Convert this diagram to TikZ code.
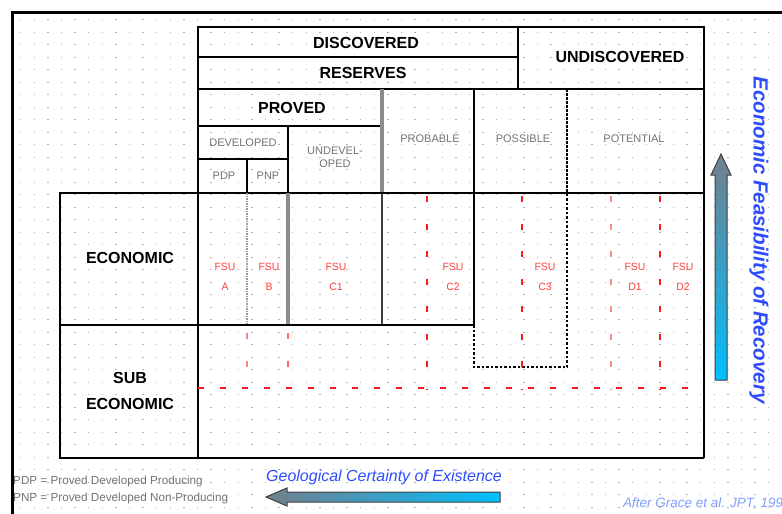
\documentclass[tikz,border=0pt]{standalone}
\usepackage{fontspec}
\setmainfont{Liberation Sans}
\definecolor{txtblue}{rgb}{0.18,0.3,1}
\definecolor{lightblue}{rgb}{0.5,0.62,1}
\definecolor{fsured}{rgb}{1,0.25,0.25}
\definecolor{arrgray}{rgb}{0.45,0.5,0.55}
\definecolor{arrcyan}{rgb}{0,0.75,1}
\begin{document}
\begin{tikzpicture}[x=1pt,y=-1pt,
  frame/.style={line width=3pt,black},
  heavy/.style={line width=2.8pt,black},
  med/.style={line width=2pt,black},
  thinln/.style={line width=1.2pt,black!75},
  grayheavy/.style={line width=3.2pt,black!45},
  grayfine/.style={line width=1.2pt,black!40,dash pattern=on 1.5pt off 1pt},
  blkdash/.style={line width=2pt,black,dash pattern=on 2.5pt off 2pt},
  hdrdash/.style={line width=2.4pt,black,dash pattern=on 3pt off 1pt},
  redv/.style={line width=2pt,red!90,dash pattern=on 6pt off 21.5pt},
  redh/.style={line width=2pt,red!90,dash pattern=on 6pt off 16pt},
  hdr/.style={font=\bfseries\fontsize{16}{16}\selectfont,inner sep=0pt},
  subhdr/.style={font=\fontsize{11}{13}\selectfont,text=black!55,inner sep=0pt,align=center},
  fsu/.style={font=\fontsize{10.5}{20}\selectfont,text=fsured,align=center,inner sep=0pt},
  legend/.style={font=\fontsize{11.7}{12}\selectfont,text=black!55,anchor=west,inner sep=0pt},
]
\useasboundingbox (0,0) rectangle (782,514);
\fill[white] (0,0) rectangle (782,514);
% dotted background
\foreach \i in {0,...,56}{\foreach \j in {0,...,39}{%
  \fill[black!30] (20+13.6*\i,19+12.5*\j) rectangle +(1.4,1.4);}}
% outer frame
\draw[frame] (12,514) -- (12,12) -- (782,12);
% header
\draw[heavy] (198,27) rectangle (704,89);
\draw[heavy] (198,57) -- (518,57);
\draw[heavy] (518,27) -- (518,89);
\draw[heavy] (198,89) -- (198,458);
\draw[heavy] (704,89) -- (704,458);
\draw[heavy] (198,126) -- (382,126);
\draw[heavy] (198,159) -- (288,159);
\draw[heavy] (288,126) -- (288,193);
\draw[med] (247,159) -- (247,193);
\draw[grayheavy] (382,89) -- (382,193);
\draw[thinln] (382,193) -- (382,325);
\draw[med] (474,89) -- (474,325);
\draw[hdrdash] (567,89) -- (567,193);
\draw[med] (198,193) -- (704,193);
% economic rows
\draw[grayfine] (247,193) -- (247,325);
\draw[grayheavy] (288,193) -- (288,325);
\draw[heavy] (60,193) rectangle (198,458);
\draw[heavy] (60,325) -- (474,325);
\draw[blkdash] (474,325) -- (474,367) -- (567,367) -- (567,193);
\draw[heavy] (60,458) -- (704,458);
% red FSU boundaries
\draw[redv] (427,196) -- (427,390);
\draw[redv] (522,196) -- (522,390);
\draw[redv,red!45] (611,196) -- (611,390);
\draw[redv,line width=1.5pt] (660,196) -- (660,390);
\draw[redv,red!50,line width=1.5pt] (247,333) -- (247,370);
\draw[redv,red!60] (288,333) -- (288,370);
\draw[redh] (198,388) -- (704,388);
% header labels
\node[hdr] (disc) at (366,43) {DISCOVERED};
\node[hdr] (res) at (363,73) {RESERVES};
\node[hdr] (undisc) at (620,57) {UNDISCOVERED};
\node[hdr] (proved) at (292,108) {PROVED};
\node[subhdr] (devel) at (243,143) {DEVELOPED};
\node[subhdr] (undevel) at (335,157) {UNDEVEL-\\OPED};
\node[subhdr] (pdp) at (224,176) {PDP};
\node[subhdr] (pnp) at (268,176) {PNP};
\node[subhdr] (prob) at (430,139) {PROBABLE};
\node[subhdr] (poss) at (523,139) {POSSIBLE};
\node[subhdr] (pot) at (634,139) {POTENTIAL};
\node[hdr] (econ) at (130,258) {ECONOMIC};
\node[hdr,align=center,font=\bfseries\fontsize{16}{26}\selectfont] (subecon) at (130,391) {SUB\\ECONOMIC};
% FSU labels
\node[fsu] (fa) at (225,277) {FSU\\A};
\node[fsu] (fb) at (269,277) {FSU\\B};
\node[fsu] (fc1) at (336,277) {FSU\\C1};
\node[fsu] (fc2) at (453,277) {FSU\\C2};
\node[fsu] (fc3) at (545,277) {FSU\\C3};
\node[fsu] (fd1) at (635,277) {FSU\\D1};
\node[fsu] (fd2) at (683,277) {FSU\\D2};
% vertical arrow
\shade[top color=arrgray,bottom color=arrcyan,draw=black!75,line width=1pt]
  (715,380) -- (715,175) -- (711,175) -- (721,154) -- (731,175) -- (727,175) -- (727,380) -- cycle;
\node[rotate=-90,font=\bfseries\itshape\fontsize{20.5}{20}\selectfont,text=txtblue,inner sep=0pt] (feas) at (759,240) {Economic Feasibility of Recovery};
% horizontal arrow
\shade[left color=arrgray,right color=arrcyan,draw=black!75,line width=1pt]
  (500,492) -- (287,492) -- (287,488) -- (266,497) -- (287,506) -- (287,502) -- (500,502) -- cycle;
\node[font=\itshape\fontsize{16}{16}\selectfont,text=txtblue,inner sep=0pt] (geo) at (384,477) {Geological Certainty of Existence};
% legend
\node[legend] (lg1) at (13,481) {PDP = Proved Developed Producing};
\node[legend] (lg2) at (13,498) {PNP = Proved Developed Non-Producing};
\node[font=\itshape\fontsize{13.5}{13}\selectfont,text=lightblue,anchor=west,inner sep=0pt] (src) at (623,503) {After Grace et al. JPT, 199};
\end{tikzpicture}
\end{document}
